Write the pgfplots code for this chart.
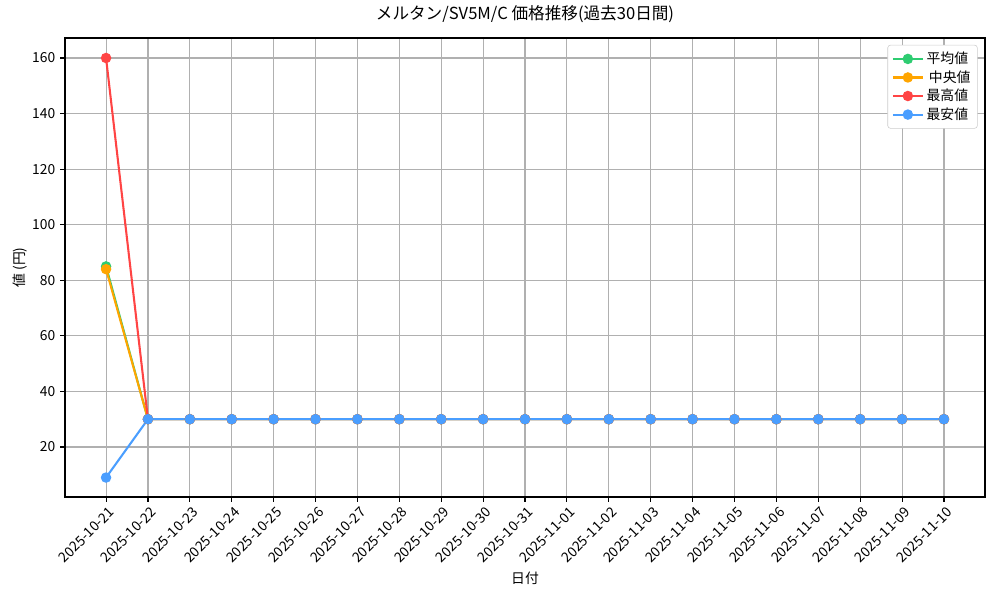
\documentclass[border=0pt]{standalone}
\usepackage{fontspec}
\setmainfont{Noto Sans CJK JP}
\usepackage{pgfplots}
\pgfplotsset{compat=1.18}
\definecolor{cmean}{HTML}{2ECC71}
\definecolor{cmed}{HTML}{FFA500}
\definecolor{cmax}{HTML}{FF4444}
\definecolor{cmin}{HTML}{4A9EFF}
\definecolor{gridc}{HTML}{B0B0B0}
\begin{document}
\begin{tikzpicture}
\useasboundingbox (0,0) rectangle (10in,6in);
\begin{axis}[
  at={(0.65in,1.03in)}, anchor=south west,
  scale only axis, width=9.2in, height=4.59in,
  xmin=-0.98, xmax=20.98, ymin=2, ymax=167.2,
  xtick={0,...,20},
  xticklabels={2025-10-21,2025-10-22,2025-10-23,2025-10-24,2025-10-25,2025-10-26,2025-10-27,2025-10-28,2025-10-29,2025-10-30,2025-10-31,2025-11-01,2025-11-02,2025-11-03,2025-11-04,2025-11-05,2025-11-06,2025-11-07,2025-11-08,2025-11-09,2025-11-10},
  ytick={20,40,...,160},
  /pgf/number format/assume math mode=true,
  tick label style={font=\fontsize{10}{12}\selectfont},
  xticklabel style={rotate=45, anchor=north east, inner sep=1pt, yshift=-2pt},
  xtick pos=bottom, ytick pos=left,
  tick align=outside, major tick length=3.5pt,
  every tick/.style={black, line width=0.8pt},
  grid=major, grid style={gridc, line width=0.8pt},
  axis line style={black, line width=0.8pt},
  title={メルタン/SV5M/C 価格推移(過去30日間)},
  title style={font=\fontsize{12}{14}\selectfont, at={(0.5,1)}, anchor=center, yshift=0.16in},
  xlabel={日付},
  xlabel style={font=\fontsize{10}{12}\selectfont, at={(axis description cs:0.5,0)}, anchor=center, yshift=-0.81in},
  ylabel={値 (円)},
  ylabel style={font=\fontsize{10}{12}\selectfont, at={(axis description cs:0,0.5)}, anchor=center, yshift=0.45in},
  legend style={at={(axis description cs:0.992,0.985)}, anchor=north east, draw=black!20, rounded corners=2pt, font=\fontsize{10}{12}\selectfont, row sep=-0.5pt, inner sep=3pt},
  legend cell align=left,
  legend image code/.code={\draw[mark repeat=2,mark phase=2] plot coordinates {(0cm,0cm) (0.38cm,0cm) (0.76cm,0cm)};},
  every axis plot/.append style={line width=1.5pt, mark=*, mark size=3pt, mark options={solid}},
]
\addplot[cmean, mark options={fill=cmean, draw=cmean}] coordinates {(0,85) (1,30) (2,30) (3,30) (4,30) (5,30) (6,30) (7,30) (8,30) (9,30) (10,30) (11,30) (12,30) (13,30) (14,30) (15,30) (16,30) (17,30) (18,30) (19,30) (20,30)};
\addlegendentry{平均値}
\addplot[cmed, mark options={fill=cmed, draw=cmed}] coordinates {(0,84) (1,30) (2,30) (3,30) (4,30) (5,30) (6,30) (7,30) (8,30) (9,30) (10,30) (11,30) (12,30) (13,30) (14,30) (15,30) (16,30) (17,30) (18,30) (19,30) (20,30)};
\addlegendentry{\,中央値}
\addplot[cmax, mark options={fill=cmax, draw=cmax}] coordinates {(0,160) (1,30) (2,30) (3,30) (4,30) (5,30) (6,30) (7,30) (8,30) (9,30) (10,30) (11,30) (12,30) (13,30) (14,30) (15,30) (16,30) (17,30) (18,30) (19,30) (20,30)};
\addlegendentry{最高値}
\addplot[cmin, mark options={fill=cmin, draw=cmin}] coordinates {(0,9) (1,30) (2,30) (3,30) (4,30) (5,30) (6,30) (7,30) (8,30) (9,30) (10,30) (11,30) (12,30) (13,30) (14,30) (15,30) (16,30) (17,30) (18,30) (19,30) (20,30)};
\addlegendentry{最安値}
\end{axis}
\end{tikzpicture}
\end{document}
